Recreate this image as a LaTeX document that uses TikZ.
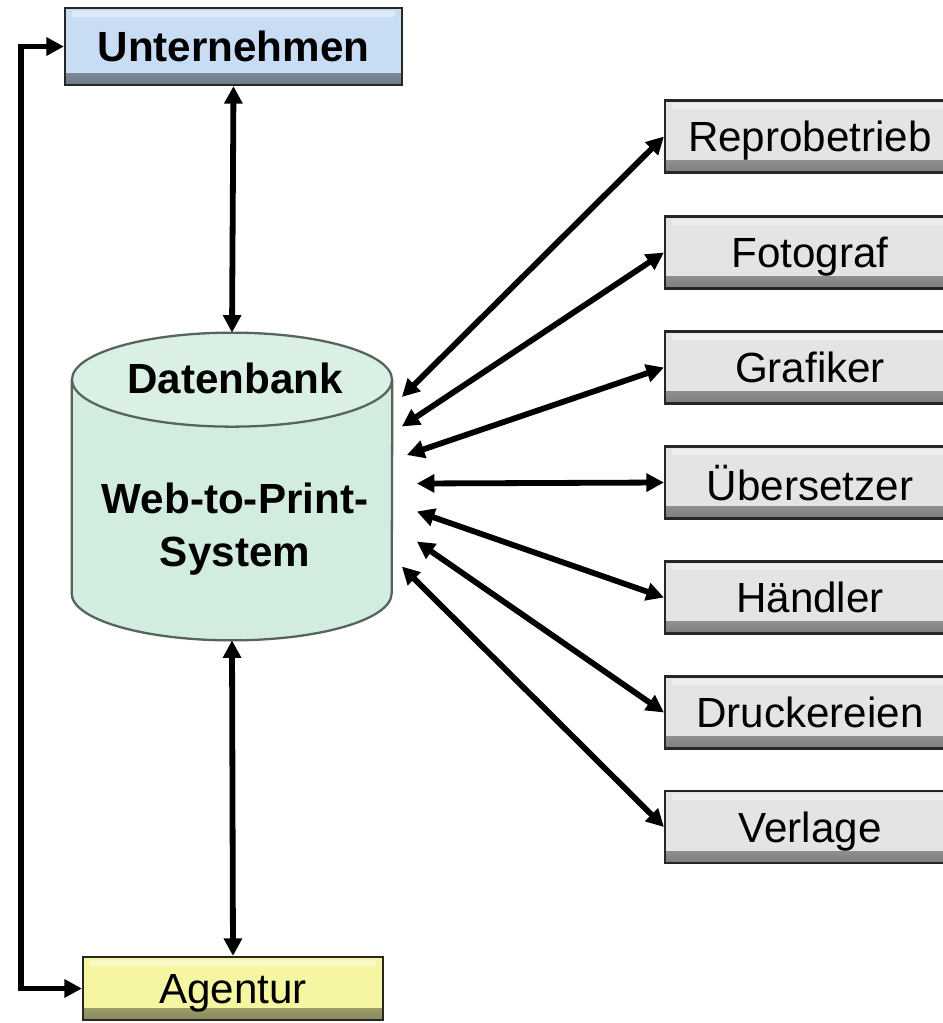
\documentclass[tikz,border=0pt]{standalone}
\usepackage{fontspec}
\setmainfont{Liberation Sans}
\usepackage{xcolor}
\usepackage{tikz}
\usetikzlibrary{calc,arrows.meta}
\definecolor{boxgray}{HTML}{E4E4E4}
\definecolor{boxblue}{HTML}{C8DCF4}
\definecolor{boxyel}{HTML}{F6F6A2}
\definecolor{dbgreen}{HTML}{D2ECDF}
\definecolor{dbtop}{HTML}{DBF0E5}
\definecolor{dbline}{HTML}{56645C}
\tikzset{
  btn/.style={draw=black!85, line width=1.2pt, inner sep=0pt,
    font=\fontsize{24}{28}\selectfont, text=black, text depth=0pt, fill=#1,
    path picture={
      \fill[top color=#1, bottom color=#1!55!black]
        ($(path picture bounding box.south west)+(0,0.24)$)
        rectangle (path picture bounding box.south east);
      \fill[white, opacity=0.4]
        ($(path picture bounding box.north west)+(0.14,-0.05)$)
        rectangle ($(path picture bounding box.north east)+(-0.14,-0.17)$);
    }},
  partner/.style={btn=boxgray, minimum width=5.8cm, minimum height=1.44cm},
  link/.style={line width=3.3pt, {Triangle[length=10pt,width=10pt]}-{Triangle[length=10pt,width=10pt]}},
  dbcyl/.style={draw=dbline, line width=1.3pt},
  dblab/.style={font=\fontsize{24}{30}\selectfont\bfseries, align=center}
}

\begin{document}
\begin{tikzpicture}
  \useasboundingbox (0,0) rectangle (18.86,-20.46);

  \node[btn=boxblue, font=\fontsize{24}{28}\selectfont\bfseries,
        minimum width=6.74cm, minimum height=1.54cm]
        (unt) at (4.67,-0.93) {Unternehmen};
  \node[btn=boxyel, minimum width=6.0cm, minimum height=1.26cm]
        (agt) at (4.66,-19.77) {Agentur};

  % Datenbank
  \node[minimum width=6.4cm, minimum height=6.14cm] (db) at (4.64,-9.73) {};
  \draw[dbcyl, fill=dbgreen] ($(db.north west)+(0,-0.94)$)
    -- ($(db.south west)+(0,0.94)$)
    arc[start angle=180, end angle=360, x radius=3.2cm, y radius=0.94cm]
    -- ($(db.north east)+(0,-0.94)$);
  \draw[dbcyl, fill=dbtop] ($(db.north)+(0,-0.94)$) ellipse[x radius=3.2cm, y radius=0.94cm];
  \node[dblab] (dbname) at (4.7,-7.56) {Datenbank};
  \node[dblab] (dbsys) at (4.7,-10.58) {Web-to-Print-\\System};

  \node[partner] (rep) at (16.2,-2.73) {Reprobetrieb};
  \node[partner] (fot) at (16.2,-5.05) {Fotograf};
  \node[partner] (gra) at (16.2,-7.35) {Grafiker};
  \node[partner] (ueb) at (16.2,-9.65) {Übersetzer};
  \node[partner] (hae) at (16.2,-11.95) {Händler};
  \node[partner] (dru) at (16.2,-14.25) {Druckereien};
  \node[partner] (ver) at (16.2,-16.54) {Verlage};

  \coordinate (s1) at ($(db.east)+(0.19,1.79)$);
  \coordinate (s2) at ($(db.east)+(0.19,1.20)$);
  \coordinate (s3) at ($(db.east)+(0.29,0.63)$);
  \coordinate (s4) at ($(db.east)+(0.49,0.06)$);
  \coordinate (s5) at ($(db.east)+(0.49,-0.50)$);
  \coordinate (s6) at ($(db.east)+(0.49,-1.10)$);
  \coordinate (s7) at ($(db.east)+(0.19,-1.60)$);

  \draw[link] (unt.south) -- (db.north);
  \draw[link] (db.south) -- (agt.north);
  \draw[link] (unt.west) -- ++(-0.86,0) |- (agt.west);

  \draw[link] (s1) -- (rep.west);
  \draw[link] (s2) -- (fot.west);
  \draw[link] (s3) -- (gra.west);
  \draw[link] (s4) -- (ueb.west);
  \draw[link] (s5) -- (hae.west);
  \draw[link] (s6) -- (dru.west);
  \draw[link] (s7) -- (ver.west);
\end{tikzpicture}
\end{document}
